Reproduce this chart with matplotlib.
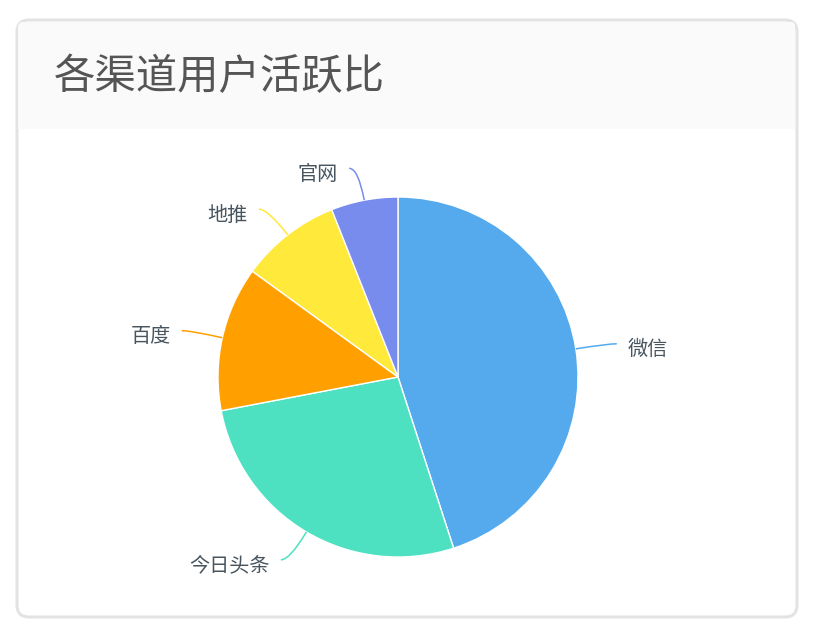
import numpy as np
import matplotlib
matplotlib.use("Agg")
import matplotlib.pyplot as plt
from matplotlib.patches import FancyBboxPatch, Rectangle, PathPatch
from matplotlib.path import Path

plt.rcParams['font.family'] = ['Noto Sans CJK SC', 'DejaVu Sans']

title = "各渠道用户活跃比"
channels = ["微信", "今日头条", "百度", "地推", "官网"]
values = [45, 27, 13, 9, 6]
colors = ["#54aaec", "#4de1c2", "#ffa000", "#ffe93b", "#788cee"]

W, H = 828, 640
fig = plt.figure(figsize=(W / 100, H / 100), dpi=100)
fig.patch.set_facecolor("white")

# background card axes in pixel coords (y down)
bg = fig.add_axes([0, 0, 1, 1])
bg.set_xlim(0, W)
bg.set_ylim(H, 0)
bg.axis("off")
x0, y0, x1, y1 = 17, 20, 797, 617
card = FancyBboxPatch((x0, y0), x1 - x0, y1 - y0,
                      boxstyle="round,pad=0,rounding_size=12",
                      facecolor="white", edgecolor="#e3e3e3", linewidth=2.2)
bg.add_patch(card)
header = Rectangle((x0 + 1.5, y0 + 1.5), x1 - x0 - 3, 107,
                   facecolor="#fafafa", edgecolor="none")
header.set_clip_path(card)
bg.add_patch(header)
bg.text(54, 78, title, fontsize=29.8, color="#555555", va="center", ha="left")

# pie axes
cx, cy, R = 398, 377, 180
ax = fig.add_axes([(cx - R) / W, (H - cy - R) / H, 2 * R / W, 2 * R / H])
wedges, _ = ax.pie(values, colors=colors, startangle=90, counterclock=False,
                   radius=1.0, wedgeprops=dict(edgecolor="white", linewidth=1.0))
ax.set_xlim(-1, 1)
ax.set_ylim(-1, 1)
ax.set_aspect("equal")
ax.axis("off")

px = 1.0 / R  # one pixel in axes data units
for w, lab, col in zip(wedges, channels, colors):
    ang = np.deg2rad((w.theta1 + w.theta2) / 2)
    c, s = np.cos(ang), np.sin(ang)
    p0 = (c, s)
    p1 = (1.18 * c, 1.18 * s)
    side = 1 if c >= 0 else -1
    p2 = (p1[0] + side * 9 * px, p1[1])
    path = Path([p0, p1, p2], [Path.MOVETO, Path.CURVE3, Path.CURVE3])
    ax.add_patch(PathPatch(path, facecolor="none", edgecolor=col, lw=1.1,
                           clip_on=False))
    ax.text(p2[0] + side * 11 * px, p2[1] - 6 * px, lab, fontsize=14.5,
            color="#48555f", ha="left" if side > 0 else "right", va="center",
            clip_on=False)

fig.savefig("out.png", dpi=100, facecolor="white")
